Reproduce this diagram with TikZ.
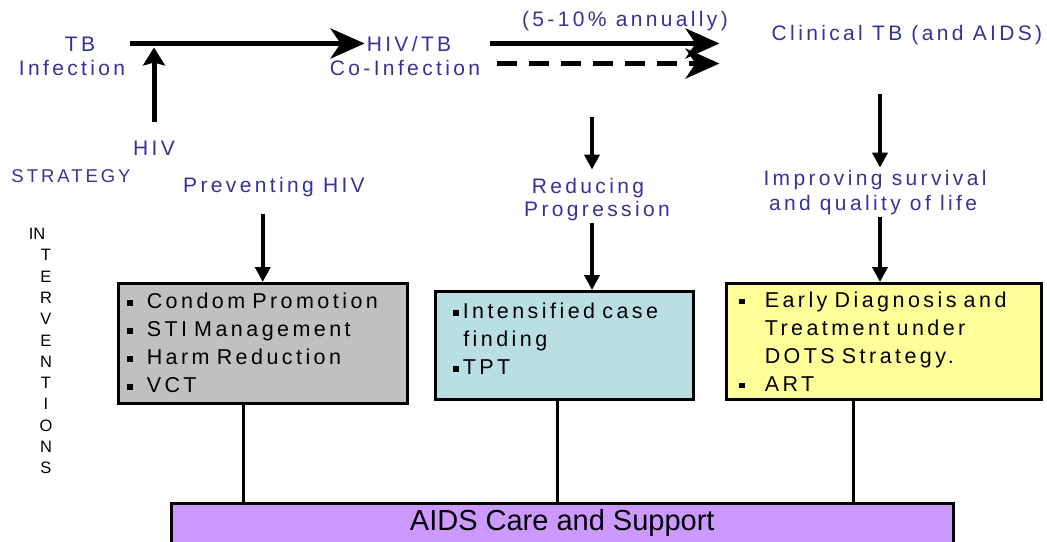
\documentclass[tikz,border=0pt]{standalone}
\usepackage{fontspec}
\setmainfont{Liberation Sans}
\newfontfamily\spacedfont[LetterSpace=16]{Liberation Sans}
\usetikzlibrary{arrows.meta, positioning}
\definecolor{labelblue}{RGB}{51,51,153}
\definecolor{boxgray}{RGB}{192,192,192}
\definecolor{boxcyan}{RGB}{185,223,227}
\definecolor{boxyellow}{RGB}{255,255,153}
\definecolor{boxpurple}{RGB}{204,153,255}
\newcommand{\sqbullet}{\rule[3pt]{5.5pt}{5.5pt}}
\tikzset{lbl/.style = {text=labelblue,
			font=\spacedfont\fontsize{21}{24}\selectfont,
			inner sep=2pt,
			anchor=base}}
\tikzset{itembox/.style = {rectangle,
			draw,
			line width=2.5pt,
			align=left,
			inner ysep=0pt,
			anchor=north west,
			font=\spacedfont\fontsize{21.5}{28}\selectfont}}
\tikzset{bigline/.style = {draw, line width=5pt, -{Stealth[length=34pt, width=30pt, inset=10pt]}}}
\tikzset{upline/.style = {draw, line width=5pt, -{Stealth[length=18pt, width=22pt, inset=3pt]}}}
\tikzset{downline/.style = {draw, line width=4pt, -{Triangle[length=15pt, width=15pt]}}}
\tikzset{link/.style = {draw, line width=2.5pt}}

\begin{document}
\begin{tikzpicture}[x=1pt, y=-1pt]
	\useasboundingbox (0,0) rectangle (1047,541);
	% top row
	\node [lbl] (tbtop) at (80,51) {TB};
	\node [lbl] (infection) at (72,75) {Infection};
	\node [lbl] (hivtb) at (409,51) {HIV/TB};
	\node [lbl] (coinfection) at (405,75) {Co-Infection};
	\node [lbl] (annual) at (625,26) {(5-10\% annually)};
	\node [lbl] (clinical) at (907,40) {Clinical TB (and AIDS)};
	\node [lbl] (hiv) at (154,155) {HIV};
	\path [bigline, shorten <=3pt] (infection.east |- hivtb.west) -- (hivtb.west);
	\path [upline, shorten <=16pt, shorten >=4pt] (hiv.north) -- (hiv.north |- hivtb.west);
	\path [bigline, shorten <=8pt, shorten >=50pt] (coinfection.east |- hivtb.west) -- (clinical.west |- hivtb.west);
	\path [bigline, dash pattern=on 20pt off 12pt, shorten <=15pt, shorten >=50pt] ([yshift=4pt]coinfection.east) -- ([yshift=4pt]clinical.west |- coinfection.east);

	% strategy row
	\node [lbl, font=\spacedfont\fontsize{18.5}{20}\selectfont] (strategy) at (71,182) {STRATEGY};
	\node [lbl] (prevent) at (274,192) {Preventing HIV};
	\node [lbl] (reducing) at (588,193) {Reducing};
	\node [lbl] (progression) at (597,216) {Progression};
	\node [lbl] (improve) at (875,185) {Improving survival};
	\node [lbl] (quality) at (873,210) {and quality of life};
	\coordinate (redtop) at (592,117);
	\path [downline, shorten >=6pt] (redtop) -- (redtop |- reducing.north);
	\path [downline, shorten <=47pt] ([xshift=5pt]improve.north |- clinical.south) -- ([xshift=5pt]improve.north);
	\node [align=center, inner sep=2pt, anchor=north, font=\fontsize{16.5}{21.3}\selectfont] (interv) at (46,226)
		{\hspace*{-18pt}IN\\T\\E\\R\\V\\E\\N\\T\\I\\O\\N\\S};

	% intervention boxes
	\node [itembox, fill=boxgray, minimum width=289pt, minimum height=120pt, text width=271pt, inner xsep=9pt] (prevbox) at (117,282)
		{\sqbullet\hspace{14pt}Condom Promotion\\
		 \sqbullet\hspace{14pt}STI Management\\
		 \sqbullet\hspace{14pt}Harm Reduction\\
		 \sqbullet\hspace{14pt}VCT};
	\node [itembox, fill=boxcyan, minimum width=258pt, minimum height=108pt, text width=222pt, inner xsep=18pt] (casebox) at (434,290)
		{\sqbullet\hspace{4pt}Intensified case\\
		 \hspace*{10pt}finding\\
		 \sqbullet\hspace{4pt}TPT\rule[-13pt]{0pt}{13pt}};
	\node [itembox, fill=boxyellow, minimum width=315pt, minimum height=116pt, text width=289pt, inner xsep=13pt] (diagbox) at (725,282)
		{\sqbullet\hspace{20pt}Early Diagnosis and\\
		 \hspace*{25.5pt}Treatment under\\
		 \hspace*{25.5pt}DOTS Strategy.\\
		 \sqbullet\hspace{20pt}ART};
	\path [downline, shorten <=15pt] (prevbox.north |- prevent.south) -- (prevbox.north);
	\path [downline] (redtop |- progression.south) -- (redtop |- casebox.north);
	\path [downline] ([xshift=7pt]quality.south) -- ([xshift=7pt]quality.south |- diagbox.north);

	% care and support bar
	\node [rectangle, draw, line width=2.5pt, fill=boxpurple, minimum width=782pt, minimum height=40pt, anchor=north west, font=\fontsize{29}{34}\selectfont] (care) at (170,502)
		{AIDS Care and Support};
	\path [link] ([xshift=-19.5pt]prevbox.south) -- ([xshift=-19.5pt]prevbox.south |- care.north);
	\path [link] ([xshift=-7pt]casebox.south) -- ([xshift=-7pt]casebox.south |- care.north);
	\path [link] ([xshift=-30.5pt]diagbox.south) -- ([xshift=-30.5pt]diagbox.south |- care.north);
\end{tikzpicture}
\end{document}
